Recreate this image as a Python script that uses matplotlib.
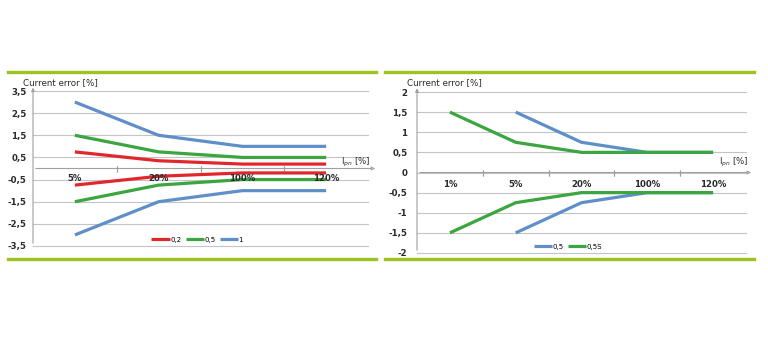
import numpy as np
import matplotlib.pyplot as plt
from matplotlib.ticker import FuncFormatter

# left chart: accuracy classes 0.2, 0.5, 1
cats_l = ['5%', '20%', '100%', '120%']
cls_02 = [0.75, 0.35, 0.2, 0.2]
cls_05 = [1.5, 0.75, 0.5, 0.5]
cls_1 = [3.0, 1.5, 1.0, 1.0]
yticks_l = [3.5, 2.5, 1.5, 0.5, -0.5, -1.5, -2.5, -3.5]

# right chart: accuracy classes 0.5 and 0.5S
cats_r = ['1%', '5%', '20%', '100%', '120%']
cls_05r = [np.nan, 1.5, 0.75, 0.5, 0.5]
cls_05s = [1.5, 0.75, 0.5, 0.5, 0.5]
yticks_r = [2, 1.5, 1, 0.5, 0, -0.5, -1, -1.5, -2]

RED = '#e0282c'
GREEN = '#3ba53f'
BLUE = '#5f8fc9'
LIME = '#9cc31f'
GRID = '#c4c4c4'
TXT = '#2a2a2a'

comma = FuncFormatter(lambda v, p: ('%g' % v).replace('.', ','))


def draw_panel(ax, cats, series, yticks, label_off, xlab_off, ypad, leg_x, title_y):
    n = len(cats)
    x = np.arange(n)
    ymin, ymax = min(yticks), max(yticks)
    ax.set_xlim(-0.5, n - 0.5)
    ax.set_ylim(ymin, ymax)
    ax.set_yticks(yticks)
    ax.yaxis.set_major_formatter(comma)
    ax.set_xticks([])
    for t in yticks:
        ax.axhline(t, color=GRID, lw=0.8, zorder=0, clip_on=False)
    for s in ax.spines.values():
        s.set_visible(False)
    ax.tick_params(axis='y', length=0, labelsize=6.2, labelcolor=TXT, pad=ypad)
    for lab in ax.get_yticklabels():
        lab.set_fontweight('bold')
    # y axis with arrow
    ax.annotate('', xy=(0, 1.04), xytext=(0, 0), xycoords='axes fraction',
                arrowprops=dict(arrowstyle='-|>', color='#a0a0a0', lw=0.8,
                                mutation_scale=5), annotation_clip=False)
    # x axis at zero with arrow
    ax.annotate('', xy=(n - 0.5 + 0.12, 0), xytext=(-0.5, 0), xycoords='data',
                arrowprops=dict(arrowstyle='-|>', color='#a0a0a0', lw=0.8,
                                mutation_scale=5, fc='white'),
                annotation_clip=False)
    for b in np.arange(0.5, n - 0.5, 1):
        ax.plot([b, b], [0, 0], marker='|', ms=4, color='#a0a0a0', mew=0.8)
    for i, c in enumerate(cats):
        ax.annotate(c, xy=(i, 0), xytext=(0, -label_off), textcoords='offset points',
                    ha='center', va='center', fontsize=6.2, fontweight='bold', color=TXT)
    ax.annotate('I$_{pn}$ [%]', xy=(n - 0.5, 0), xytext=(2, xlab_off),
                textcoords='offset points', ha='right', va='center',
                fontsize=6.2, color=TXT)
    for vals, col, lab in series:
        v = np.array(vals, dtype=float)
        ax.plot(x, v, color=col, lw=2.3, label=lab, solid_capstyle='butt')
        ax.plot(x, -v, color=col, lw=2.3, solid_capstyle='butt')
    ax.legend(loc='lower center', bbox_to_anchor=(leg_x, -0.01), ncol=len(series),
              frameon=False, fontsize=5, handlelength=2.6, columnspacing=0.6,
              handletextpad=0.1, borderpad=0.2)
    ax.text(-0.03, title_y, 'Current error [%]', transform=ax.transAxes,
            fontsize=6.3, color=TXT, ha='left', va='center')


fig = plt.figure(figsize=(7.68, 3.4), dpi=100)

ax1 = fig.add_axes([33 / 768, 1 - 246 / 340, 335 / 768, 155 / 340])
draw_panel(ax1, cats_l, [(cls_02, RED, '0,2'), (cls_05, GREEN, '0,5'), (cls_1, BLUE, '1')],
           yticks_l, 7.5, 4, 4.5, 0.49, 1.052)

ax2 = fig.add_axes([417 / 768, 1 - 253 / 340, 329 / 768, 161 / 340])
draw_panel(ax2, cats_r, [(cls_05r, BLUE, '0,5'), (cls_05s, GREEN, '0,5S')],
           yticks_r, 8.5, 7.5, 7, 0.46, 1.056)

# lime separator lines
for x0, x1 in [(8, 376), (385, 754)]:
    for yy in (72, 259):
        fig.add_artist(plt.Line2D([x0 / 768, x1 / 768], [1 - yy / 340, 1 - yy / 340],
                                  color=LIME, lw=2.4, transform=fig.transFigure))

fig.savefig('out.png', dpi=100)
